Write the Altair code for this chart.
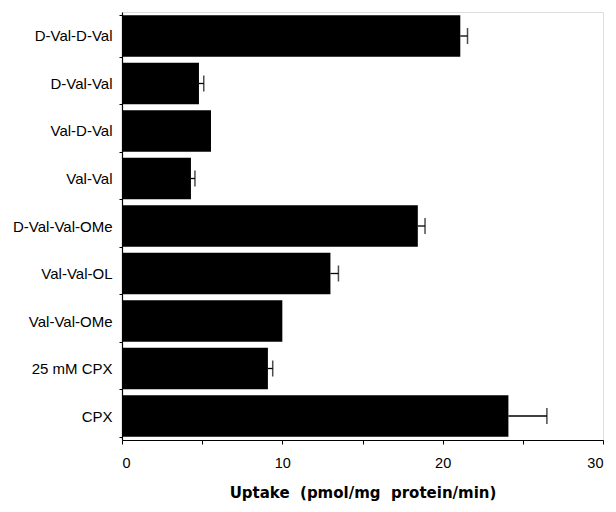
import altair as alt
import pandas as pd

categories = ["D-Val-D-Val", "D-Val-Val", "Val-D-Val", "Val-Val", "D-Val-Val-OMe",
              "Val-Val-OL", "Val-Val-OMe", "25 mM CPX", "CPX"]
uptake = [21.1, 4.8, 5.55, 4.3, 18.45, 13.0, 10.0, 9.1, 24.1]
error = [0.45, 0.3, 0.0, 0.25, 0.45, 0.5, 0.0, 0.3, 2.4]

df = pd.DataFrame({"cat": categories, "val": uptake, "err": error})
df["hi"] = df["val"] + df["err"]
err_df = df[df["err"] > 0]

y = alt.Y("cat:N", sort=categories, title=None,
          scale=alt.Scale(paddingInner=0.13, paddingOuter=0.07),
          axis=alt.Axis(tickBand="extent", tickSize=3, labelPadding=7, labelFontSize=15,
                        labelFont="Liberation Sans", labelColor="black", domainColor="black",
                        tickColor="black", domainWidth=1.2))

x = alt.X("val:Q", title="Uptake\u00a0\u00a0(pmol/mg\u00a0\u00a0protein/min)",
          scale=alt.Scale(domain=[0, 30], nice=False),
          axis=alt.Axis(values=[0, 5, 10, 15, 20, 25, 30],
                        labelExpr="datum.value % 10 == 0 ? datum.label : ''",
                        tickSize=4, labelPadding=12, labelFontSize=14.5, labelFont="Liberation Sans",
                        labelColor="black", domainColor="black", tickColor="black",
                        domainWidth=1.2, grid=False, titleFont="DejaVu Sans",
                        titleFontSize=15, titleFontWeight="bold", titlePadding=16,
                        titleColor="black"))

bars = alt.Chart(df).mark_bar(color="black").encode(x=x, y=y)
rules = alt.Chart(err_df).mark_rule(color="black", strokeWidth=1.3).encode(
    x="val:Q", x2="hi:Q", y=alt.Y("cat:N", sort=categories))
caps = alt.Chart(err_df).mark_tick(color="black", orient="vertical", size=16, thickness=1.5).encode(
    x="hi:Q", y=alt.Y("cat:N", sort=categories))

chart = (bars + rules + caps).properties(
    width=481, height=428,
    autosize=alt.AutoSizeParams(type="none"),
    padding={"left": 114, "top": 4, "right": 5, "bottom": 68},
).configure_view(stroke=None).configure(background="white")

chart.save("out.html", embed_options={"renderer": "svg", "actions": False})
